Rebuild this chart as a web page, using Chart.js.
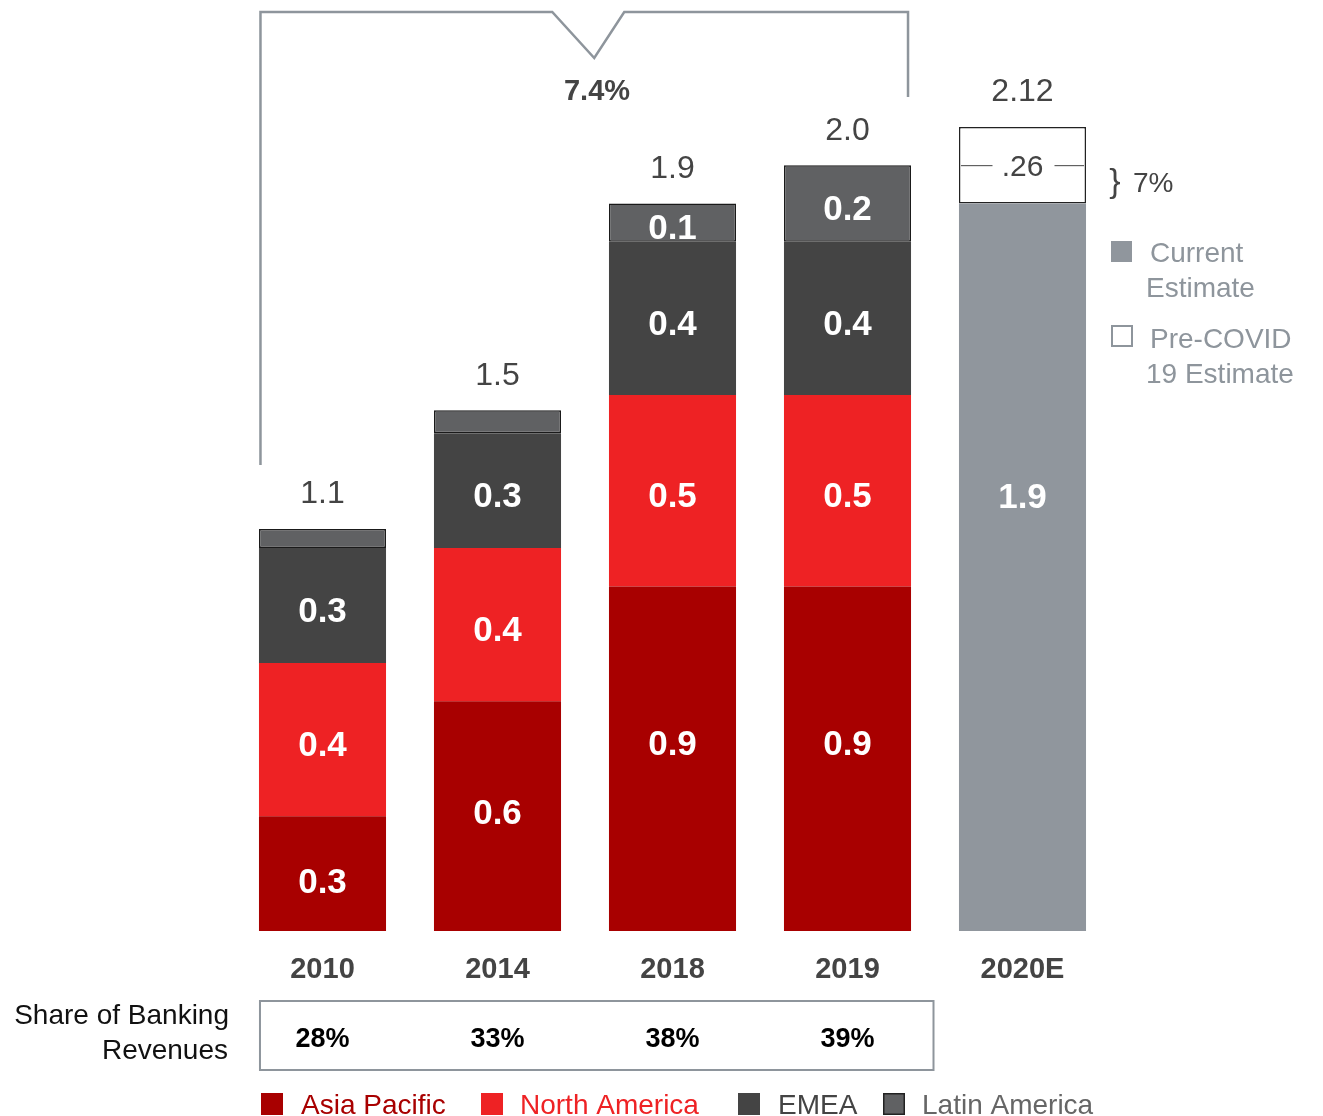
<!DOCTYPE html>
<html>
<head>
<meta charset="utf-8">
<script src="https://cdn.jsdelivr.net/npm/chart.js@4"></script>
<style>
  html,body{margin:0;padding:0;background:#fff;}
  #wrap{width:1323px;height:1116px;position:relative;}
</style>
</head>
<body>
<div id="wrap"><canvas id="c"></canvas></div>
<script>
// ---- data ----
const categories = ['2010', '2014', '2018', '2019', '2020E'];
const asiaPacific = [0.3, 0.6, 0.9, 0.9, null];
const northAmerica = [0.4, 0.4, 0.5, 0.5, null];
const emea = [0.3, 0.3, 0.4, 0.4, null];
const latinAmerica = [0.05, 0.06, 0.1, 0.2, null];
const currentEstimate = [null, null, null, null, 1.9];
const preCovidEstimate = [null, null, null, null, 0.2];
const totalLabels = ['1.1', '1.5', '1.9', '2.0', '2.12'];
const preCovidLabel = '.26';
const shareOfBanking = ['28%', '33%', '38%', '39%'];
const cagrLabel = '7.4%';
const gapLabel = '7%';
const seriesNames = ['Asia Pacific', 'North America', 'EMEA', 'Latin America'];
const estimateNames = [['Current', 'Estimate'], ['Pre-COVID', '19 Estimate']];

// ---- styles ----
const FONT = '"Liberation Sans", Arial, sans-serif';
const colors = {
  ap: '#A80000', na: '#EE2224', emea: '#444444', la: '#606163',
  cur: '#90969D', grey: '#8E959C', text: '#444444'
};

function txt(ctx, s, x, cy, size, weight, color, align) {
  ctx.font = `${weight} ${size}px ${FONT}`;
  ctx.textAlign = align || 'center';
  ctx.textBaseline = 'alphabetic';
  ctx.fillStyle = color;
  ctx.fillText(s, x, cy + size * 0.36);
}

const overlay = {
  id: 'overlay',
  afterDatasetsDraw(chart) {
    const ctx = chart.ctx;
    const y = chart.scales.y;
    const metas = [0,1,2,3,4,5].map(i => chart.getDatasetMeta(i));
    const dataArrs = [asiaPacific, northAmerica, emea, latinAmerica, currentEstimate, preCovidEstimate];
    ctx.save();
    // segment labels
    for (let d = 0; d < 4; d++) {
      metas[d].data.forEach((bar, i) => {
        const v = dataArrs[d][i];
        if (v == null || v < 0.1) return;
        const top = Math.min(bar.y, bar.base), bot = Math.max(bar.y, bar.base);
        const h = bot - top;
        // taller segments carry their label slightly above centre
        const off = d === 0 ? 7 - (h - 116) * 0.1 : 4;
        ctx.save();
        ctx.beginPath();
        ctx.rect(bar.x - bar.width / 2, top, bar.width, h);
        ctx.clip();
        txt(ctx, v.toFixed(1), bar.x, (top + bot) / 2 + off, 35, 'bold', '#fff');
        ctx.restore();
      });
    }
    // current estimate label aligned with North America labels row
    const cb = metas[4].data[4];
    txt(ctx, currentEstimate[4].toFixed(1), cb.x, y.getPixelForValue(asiaPacific[3] + northAmerica[3] / 2) + 5, 35, 'bold', '#fff');
    // pre-covid label with side rules
    const pb = metas[5].data[4];
    const pcy = (pb.y + pb.base) / 2;
    txt(ctx, preCovidLabel, pb.x, pcy, 30, 'normal', colors.text);
    ctx.strokeStyle = colors.text; ctx.lineWidth = 1;
    ctx.beginPath();
    ctx.moveTo(pb.x - pb.width / 2 + 2, pcy + 0.5); ctx.lineTo(pb.x - 30, pcy + 0.5);
    ctx.moveTo(pb.x + 32, pcy + 0.5); ctx.lineTo(pb.x + pb.width / 2 - 2, pcy + 0.5);
    ctx.stroke();

    // totals
    categories.forEach((c, i) => {
      let top = Infinity;
      metas.forEach((m, k) => { const b = m.data[i]; if (b && dataArrs[k][i] != null) top = Math.min(top, b.y); });
      txt(ctx, totalLabels[i], metas[0].data[i].x, top - 37, 32, 'normal', colors.text);
    });

    // year labels
    categories.forEach((c, i) => {
      txt(ctx, c, metas[0].data[i].x, 968, 29, 'bold', colors.text);
    });

    // share of banking box
    const b0 = metas[0].data[0], b3 = metas[0].data[3];
    ctx.strokeStyle = colors.grey; ctx.lineWidth = 2;
    ctx.strokeRect(b0.x - b0.width / 2 + 1, 1001, (b3.x + 86) - (b0.x - b0.width / 2 + 1), 69);
    shareOfBanking.forEach((s, i) => {
      txt(ctx, s, metas[0].data[i].x, 1037, 27, 'bold', '#000');
    });
    txt(ctx, 'Share of Banking', 229, 1014, 28, 'normal', '#111', 'right');
    txt(ctx, 'Revenues', 228, 1049, 28, 'normal', '#111', 'right');

    // CAGR bracket
    const l = b0.x - b0.width / 2 + 1.5;
    const r = b3.x + b3.width / 2 - 3;
    const mid = (l + r) / 2;
    ctx.strokeStyle = colors.grey; ctx.lineWidth = 2.5;
    ctx.beginPath();
    ctx.moveTo(l, 465); ctx.lineTo(l, 12); ctx.lineTo(mid - 32, 12);
    ctx.lineTo(mid + 10, 58); ctx.lineTo(mid + 40, 12);
    ctx.lineTo(r, 12); ctx.lineTo(r, 97);
    ctx.stroke();
    txt(ctx, cagrLabel, 597, 90, 29, 'bold', colors.text);

    // brace + 7%
    txt(ctx, '}', 1115, 180, 34, 'normal', colors.text);
    txt(ctx, gapLabel, 1133, 182, 28, 'normal', colors.text, 'left');

    // right legend
    ctx.fillStyle = colors.cur; ctx.fillRect(1111, 241, 21, 21);
    txt(ctx, estimateNames[0][0], 1150, 252, 28, 'normal', colors.grey, 'left');
    txt(ctx, estimateNames[0][1], 1146, 287, 28, 'normal', colors.grey, 'left');
    ctx.strokeStyle = colors.grey; ctx.lineWidth = 2;
    ctx.strokeRect(1112, 326, 20, 20);
    txt(ctx, estimateNames[1][0], 1150, 338, 28, 'normal', colors.grey, 'left');
    txt(ctx, estimateNames[1][1], 1146, 373, 28, 'normal', colors.grey, 'left');

    // bottom legend
    const leg = [
      {sx: 261, tx: 301, c: colors.ap, tc: colors.ap},
      {sx: 481, tx: 520, c: colors.na, tc: colors.na},
      {sx: 738, tx: 778, c: colors.emea, tc: colors.text},
      {sx: 883, tx: 922, c: colors.la, tc: '#666666', border: true}
    ];
    leg.forEach((o, i) => {
      ctx.fillStyle = o.c; ctx.fillRect(o.sx, 1093, 22, 22);
      if (o.border) { ctx.strokeStyle = '#222'; ctx.lineWidth = 1.5; ctx.strokeRect(o.sx + 0.75, 1093.75, 20.5, 20.5); }
      txt(ctx, seriesNames[i], o.tx, 1104, 28, 'normal', o.tc, 'left');
    });
    ctx.restore();
  }
};

new Chart(document.getElementById('c'), {
  type: 'bar',
  data: {
    labels: categories,
    datasets: [
      {label: seriesNames[0], data: asiaPacific, backgroundColor: colors.ap, borderWidth: 0},
      {label: seriesNames[1], data: northAmerica, backgroundColor: colors.na, borderWidth: 0},
      {label: seriesNames[2], data: emea, backgroundColor: colors.emea, borderWidth: 0},
      {label: seriesNames[3], data: latinAmerica, backgroundColor: colors.la, borderColor: '#1a1a1a', borderWidth: 1.5, borderSkipped: false},
      {label: 'Current Estimate', data: currentEstimate, backgroundColor: colors.cur, borderWidth: 0},
      {label: 'Pre-COVID 19 Estimate', data: preCovidEstimate, backgroundColor: '#fff', borderColor: '#222', borderWidth: 1.5, borderSkipped: false}
    ]
  },
  options: {
    responsive: true,
    maintainAspectRatio: false,
    animation: false,
    layout: {padding: {left: 235, right: 213, top: 12, bottom: 185}},
    datasets: {bar: {categoryPercentage: 1, barPercentage: 0.726}},
    scales: {
      x: {stacked: true, display: false},
      y: {stacked: true, display: false, min: 0, max: 2.4}
    },
    plugins: {legend: {display: false}, tooltip: {enabled: false}}
  },
  plugins: [overlay]
});
</script>
</body>
</html>
